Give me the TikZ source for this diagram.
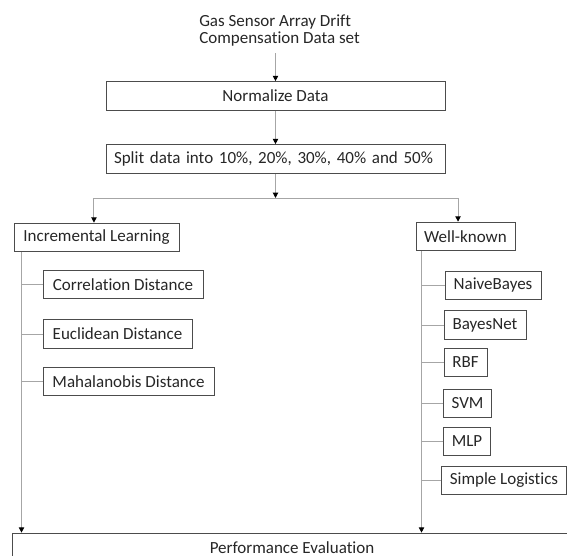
\documentclass[tikz,border=0pt]{standalone}
\usepackage{fontspec}
\setmainfont{Carlito}[Ligatures=NoCommon]
\usetikzlibrary{arrows.meta}

\begin{document}
\begin{tikzpicture}[x=0.75pt,y=-0.75pt,
    font=\fontsize{12.75}{13.2}\selectfont, text=black!85,
    box/.style={draw=black!70,line width=0.75pt,minimum height=21.5pt,inner xsep=6pt,inner ysep=0pt},
    link/.style={draw=black!35,line width=0.75pt},
    flow/.style={link,-{Triangle[length=4pt,width=4pt,color=black]}}]
    \useasboundingbox (0,0) rectangle (567,556);
    \clip (0,0) rectangle (567,556);

    \node[align=left,anchor=west,inner xsep=0pt,inner ysep=5pt] (data) at (199,30.5) {Gas Sensor Array Drift\\Compensation Data set};
    \node[box,minimum width=254.25pt] (norm) at (275.5,96) {Normalize Data};
    \node[box,text width=242.25pt,align=left] (split) at (275.5,159) {Split data into 10\%, 20\%, 30\%, 40\% and 50\%};
    \node[box,minimum width=123.75pt] (incr) at (96.5,237.5) {Incremental Learning};
    \node[box,minimum width=74.25pt] (wk) at (465.5,236.5) {Well-known};
    \node[box,minimum width=120pt] (corr) at (123,284.5) {Correlation Distance};
    \node[box,minimum width=111.75pt] (eucl) at (117.5,334) {Euclidean Distance};
    \node[box,minimum width=128.25pt] (maha) at (128.5,381.5) {Mahalanobis Distance};
    \node[box,minimum width=72pt] (naive) at (493,285.5) {NaiveBayes};
    \node[box,minimum width=61.5pt] (bnet) at (485,325) {BayesNet};
    \node[box,minimum width=32.25pt] (rbf) at (465.5,362.5) {RBF};
    \node[box,minimum width=35.25pt] (svm) at (467.5,403.5) {SVM};
    \node[box,minimum width=34.5pt] (mlp) at (467,441.5) {MLP};
    \node[box,minimum width=93pt] (slog) at (504,480.5) {Simple Logistics};
    \node[box,minimum width=420pt] (perf) at (292,547.5) {Performance Evaluation};

    \coordinate (fork) at (275.5,198);
    \coordinate (ltrunk) at ([xshift=6pt]incr.south west);
    \coordinate (rtrunk) at ([xshift=4.5pt]wk.south west);

    \draw[flow] (data.south -| norm.north) -- (norm.north);
    \draw[flow] (norm) -- (split);
    \draw[flow] (split) -- (fork);
    \draw[flow] (fork) -| ([xshift=-1.9pt]incr.north);
    \draw[flow] (fork) -| ([xshift=-5.6pt]wk.north);

    \draw[flow] (ltrunk) -- (ltrunk |- perf.north);
    \draw[flow] (rtrunk) -- (rtrunk |- perf.north);
    \foreach \leaf in {corr,eucl,maha}
      \draw[link] (\leaf.west) -- (\leaf.west -| ltrunk);
    \foreach \leaf in {naive,bnet,rbf,svm,mlp,slog}
      \draw[link] (\leaf.west) -- (\leaf.west -| rtrunk);
\end{tikzpicture}
\end{document}
